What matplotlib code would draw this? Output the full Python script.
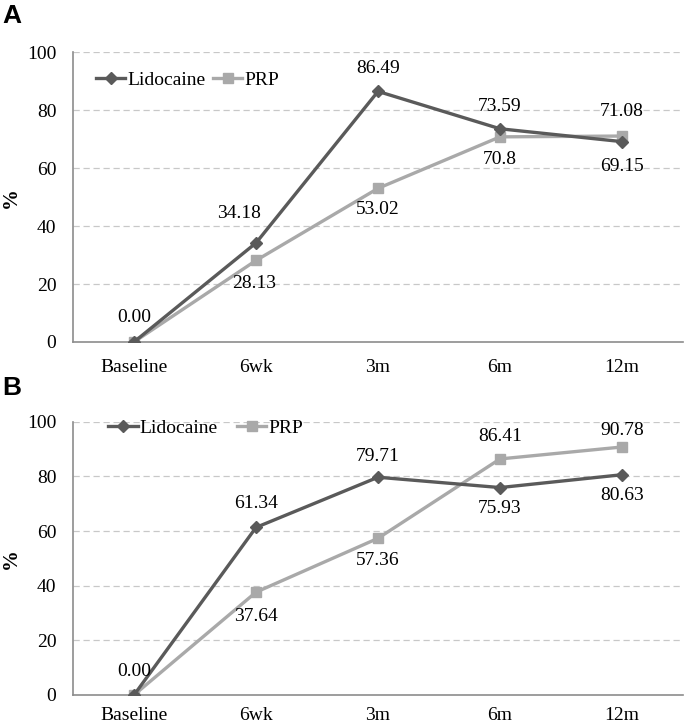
import matplotlib.pyplot as plt

plt.rcParams['font.family'] = 'Liberation Serif'
plt.rcParams['font.size'] = 14

categories = ['Baseline', '6wk', '3m', '6m', '12m']

# panel A
lido_a = [0.00, 34.18, 86.49, 73.59, 69.15]
prp_a = [0.00, 28.13, 53.02, 70.8, 71.08]
lido_a_labels = ['0.00', '34.18', '86.49', '73.59', '69.15']
prp_a_labels = ['', '28.13', '53.02', '70.8', '71.08']

# panel B
lido_b = [0.00, 61.34, 79.71, 75.93, 80.63]
prp_b = [0.00, 37.64, 57.36, 86.41, 90.78]
lido_b_labels = ['0.00', '61.34', '79.71', '75.93', '80.63']
prp_b_labels = ['', '37.64', '57.36', '86.41', '90.78']

# label offsets in pixels (dx, dy)
lido_a_off = [(0, 24), (-17, 29), (0, 23), (0, 22), (0, -25)]
prp_a_off = [(0, 0), (-2, -23), (0, -21), (0, -23), (0, 25)]
lido_b_off = [(0, 23), (0, 24), (0, 21), (0, -21), (0, -21)]
prp_b_off = [(0, 0), (0, -24), (0, -22), (0, 22), (0, 16)]

dark = '#5a5a5a'
light = '#a9a9a9'
px = 0.72  # points per pixel at dpi 100

fig = plt.figure(figsize=(6.85, 7.26), dpi=100)
ax_a = fig.add_axes([0.1066, 0.529, 0.8905, 0.399])
ax_b = fig.add_axes([0.1066, 0.0427, 0.8905, 0.3763])


def draw(ax, lido, prp, lido_lab, prp_lab, lido_off, prp_off, leg_x, leg_y, colsp, xpad):
    x = range(len(categories))
    ax.plot(x, lido, color=dark, lw=2.4, marker='D', ms=6, label='Lidocaine', zorder=3)
    ax.plot(x, prp, color=light, lw=2.4, marker='s', ms=6.5, label='PRP', zorder=2)
    for i in x:
        if lido_lab[i]:
            ax.annotate(lido_lab[i], (i, lido[i]),
                        xytext=(lido_off[i][0] * px, lido_off[i][1] * px),
                        textcoords='offset points', ha='center', va='center')
        if prp_lab[i]:
            ax.annotate(prp_lab[i], (i, prp[i]),
                        xytext=(prp_off[i][0] * px, prp_off[i][1] * px),
                        textcoords='offset points', ha='center', va='center')
    ax.set_xlim(-0.5, len(categories) - 0.5)
    ax.set_ylim(0, 100)
    ax.set_yticks([0, 20, 40, 60, 80, 100])
    ax.set_xticks(list(x))
    ax.set_xticklabels(categories)
    ax.tick_params(length=0)
    ax.tick_params(axis='x', pad=xpad)
    ax.tick_params(axis='y', pad=12)
    for y in [20, 40, 60, 80, 100]:
        ax.axhline(y, color='#c8c8c8', lw=0.9, ls=(0, (5, 3)), zorder=0)
    for s in ['top', 'right']:
        ax.spines[s].set_visible(False)
    for s in ['left', 'bottom']:
        ax.spines[s].set_color('#8c8c8c')
        ax.spines[s].set_linewidth(1.2)
    ax.set_ylabel('%', fontweight='bold', fontsize=15)
    ax.yaxis.set_label_coords(-0.085, 0.5)
    ax.legend(loc='center left', bbox_to_anchor=(leg_x, leg_y), ncol=2, frameon=False,
              handlelength=1.5, handletextpad=0.1, columnspacing=colsp,
              borderaxespad=0, borderpad=0)


draw(ax_a, lido_a, prp_a, lido_a_labels, prp_a_labels, lido_a_off, prp_a_off, 0.038, 0.903, 0.4, 12)
draw(ax_b, lido_b, prp_b, lido_b_labels, prp_b_labels, lido_b_off, prp_b_off, 0.058, 0.978, 1.0, 9)

fig.text(0.003, 0.978, 'A', fontfamily='Liberation Sans', fontweight='bold', fontsize=19, va='center')
fig.text(0.003, 0.466, 'B', fontfamily='Liberation Sans', fontweight='bold', fontsize=19, va='center')

fig.savefig('out.png', dpi=100)
